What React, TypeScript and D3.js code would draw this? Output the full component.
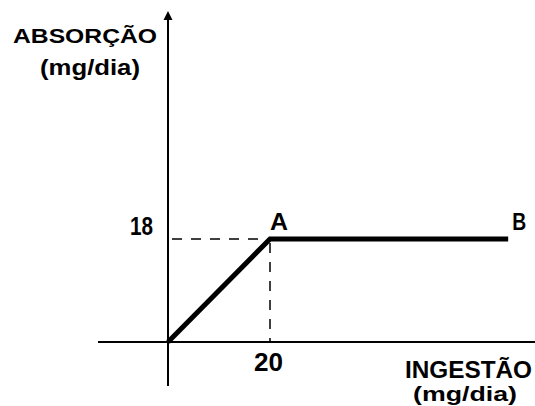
import React from "react";
import * as d3 from "d3";

const pointLabels = ["O", "A", "B"];
const ingestao = [0, 20, 66.7];
const absorcao = [0, 18, 18];
const xTickValues = [20];
const yTickValues = [18];
const yAxisTitle = ["ABSORÇÃO", "(mg/dia)"];
const xAxisTitle = ["INGESTÃO", "(mg/dia)"];

const W = 535;
const H = 406;

export default function App() {
  const x = d3.scaleLinear().domain([0, 20]).range([168, 270]);
  const y = d3.scaleLinear().domain([0, 18]).range([342, 239]);
  const data = ingestao.map((v, i) => ({ x: v, y: absorcao[i], label: pointLabels[i] }));
  const line = d3
    .line<{ x: number; y: number }>()
    .x((d) => x(d.x))
    .y((d) => y(d.y));

  const x0 = x(0);
  const y0 = y(0);
  const yTop = 11;
  const font = "'Liberation Sans', Arial, sans-serif";
  const A = data[1];
  const B = data[2];

  return (
    <svg
      width={W}
      height={H}
      style={{ position: "absolute", left: 0, top: 0, background: "#fff" }}
      fontFamily={font}
      fontWeight="bold"
    >
      <rect width={W} height={H} fill="#fff" />
      {/* x axis */}
      <line x1={98} x2={W} y1={y0} y2={y0} stroke="#000" strokeWidth={2} />
      {/* y axis */}
      <line x1={x0} x2={x0} y1={386} y2={yTop + 6} stroke="#000" strokeWidth={2} />
      <path
        d={`M${x0},${yTop} L${x0 - 4.5},${yTop + 9} L${x0 + 4.5},${yTop + 9} Z`}
        fill="#000"
      />
      {/* dashed guides */}
      {yTickValues.map((v) => (
        <line
          key={"h" + v}
          x1={x0}
          x2={x(A.x)}
          y1={y(v)}
          y2={y(v)}
          stroke="#000"
          strokeWidth={1.5}
          strokeDasharray="10 9"
          strokeDashoffset={-4}
        />
      ))}
      {xTickValues.map((v) => (
        <line
          key={"v" + v}
          x1={x(v)}
          x2={x(v)}
          y1={y(A.y)}
          y2={y0}
          stroke="#000"
          strokeWidth={1.5}
          strokeDasharray="10 9"
          strokeDashoffset={-4}
        />
      ))}
      {/* data line */}
      <path
        d={line(data) || ""}
        fill="none"
        stroke="#000"
        strokeWidth={5}
        strokeLinejoin="miter"
      />
      {/* tick labels */}
      {yTickValues.map((v) => (
        <text key={"yt" + v} x={130} y={235} fontSize={25} textLength={23} lengthAdjust="spacingAndGlyphs">
          {v}
        </text>
      ))}
      {xTickValues.map((v) => (
        <text key={"xt" + v} x={x(v) - 16} y={371} fontSize={25} textLength={29} lengthAdjust="spacingAndGlyphs">
          {v}
        </text>
      ))}
      {/* point labels */}
      <text x={x(A.x)} y={230} fontSize={23} textLength={18} lengthAdjust="spacingAndGlyphs">
        {A.label}
      </text>
      <text x={x(B.x) + 4} y={230} fontSize={23} textLength={14} lengthAdjust="spacingAndGlyphs">
        {B.label}
      </text>
      {/* axis titles */}
      <text x={13} y={43} fontSize={21} textLength={144} lengthAdjust="spacingAndGlyphs">
        {yAxisTitle[0]}
      </text>
      <text x={40} y={75} fontSize={22} textLength={100} lengthAdjust="spacingAndGlyphs">
        {yAxisTitle[1]}
      </text>
      <text x={405} y={378} fontSize={24} textLength={127} lengthAdjust="spacingAndGlyphs">
        {xAxisTitle[0]}
      </text>
      <text x={413} y={401} fontSize={21} textLength={104} lengthAdjust="spacingAndGlyphs">
        {xAxisTitle[1]}
      </text>
    </svg>
  );
}
